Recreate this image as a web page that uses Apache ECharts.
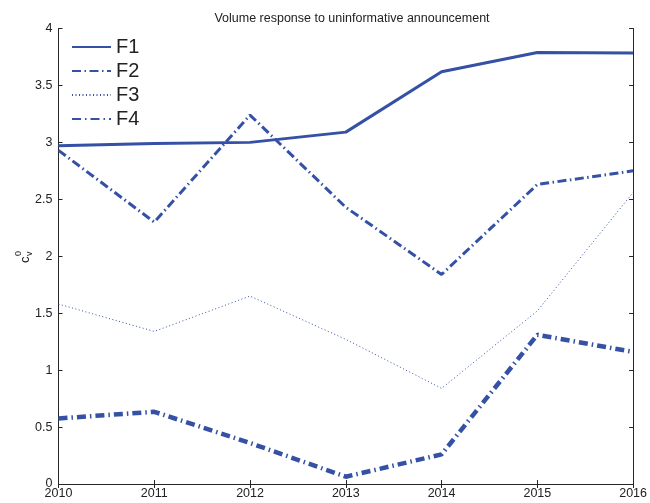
<!DOCTYPE html>
<html>
<head>
<meta charset="utf-8">
<script src="https://cdn.jsdelivr.net/npm/echarts@6/dist/echarts.min.js"></script>
<style>
  html, body { margin: 0; padding: 0; background: #fff; }
  #chart { width: 650px; height: 503px; }
</style>
</head>
<body>
<div id="chart"></div>
<script>
// years on the x axis
const years = [2010, 2011, 2012, 2013, 2014, 2015, 2016];
const seriesNames = ["F1", "F2", "F3", "F4"];
// values
const f1 = [2.97, 2.99, 3.00, 3.09, 3.62, 3.79, 3.785];
const f2 = [2.93, 2.30, 3.24, 2.43, 1.84, 2.63, 2.75];
const f3 = [1.58, 1.34, 1.65, 1.27, 0.84, 1.52, 2.56];
const f4 = [0.576, 0.634, 0.36, 0.064, 0.26, 1.31, 1.16];
const yTicks = [0, 0.5, 1, 1.5, 2, 2.5, 3, 3.5, 4];

const blue = "#3451a5";
const font = "Liberation Sans, Arial, sans-serif";
const axisColor = "#262626";

function pairs(vals) {
  return years.map((y, i) => [y, vals[i]]);
}

const chart = echarts.init(document.getElementById("chart"));

const lineDefs = [
  { data: f1, width: 3, type: "solid" },
  { data: f2, width: 3, type: [9, 3.5, 1.5, 3.5] },
  { data: f3, width: 1, type: [1, 2.5] },
  { data: f4, width: 4.5, type: [9, 4, 1.5, 4] }
];

chart.setOption({
  animation: false,
  title: {
    text: "Volume response to uninformative announcement",
    left: 347,
    top: 7,
    textAlign: "center",
    textStyle: { fontFamily: font, fontSize: 12.5, fontWeight: "normal", color: "#222" }
  },
  legend: {
    data: seriesNames,
    orient: "vertical",
    left: 71,
    top: 37,
    padding: 0,
    itemWidth: 39,
    itemHeight: 14,
    itemGap: 4,
    itemStyle: { opacity: 0 },
    textStyle: { fontFamily: font, fontSize: 20, color: "#222", lineHeight: 20 }
  },
  grid: { left: 58.5, right: 12.5, top: 28.5, bottom: 19 },
  xAxis: [
    {
      type: "value",
      min: 2010,
      max: 2016,
      interval: 1,
      axisLine: { show: true, lineStyle: { color: axisColor, width: 1 } },
      axisTick: { inside: true, length: 4, lineStyle: { color: axisColor } },
      axisLabel: {
        formatter: (v) => String(v),
        fontFamily: font, fontSize: 12.5, color: "#222", margin: 3
      },
      splitLine: { show: false }
    },
    {
      type: "value",
      position: "top",
      min: 2010,
      max: 2016,
      interval: 1,
      axisLine: { show: true, lineStyle: { color: axisColor, width: 1 } },
      axisTick: { inside: true, length: 4, lineStyle: { color: axisColor } },
      axisLabel: { show: false },
      splitLine: { show: false }
    }
  ],
  yAxis: [
    {
      type: "value",
      min: yTicks[0],
      max: yTicks[yTicks.length - 1],
      interval: 0.5,
      axisLine: { show: true, lineStyle: { color: axisColor, width: 1 } },
      axisTick: { show: true, inside: true, length: 4, lineStyle: { color: axisColor } },
      axisLabel: { fontFamily: font, fontSize: 12.5, color: "#222", margin: 6 },
      splitLine: { show: false }
    },
    {
      type: "value",
      position: "right",
      min: yTicks[0],
      max: yTicks[yTicks.length - 1],
      interval: 0.5,
      axisLine: { show: true, lineStyle: { color: axisColor, width: 1 } },
      axisTick: { show: true, inside: true, length: 4, lineStyle: { color: axisColor } },
      axisLabel: { show: false },
      splitLine: { show: false }
    }
  ],
  // y axis name: c with superscript 0 over subscript v, rotated
  graphic: [
    {
      type: "group",
      x: 25,
      y: 263,
      rotation: Math.PI / 2,
      children: [
        { type: "text", x: 0, y: 0, style: { text: "c", font: "13px " + font, fill: "#222", textVerticalAlign: "middle" } },
        { type: "text", x: 7, y: -6, style: { text: "0", font: "9px " + font, fill: "#222", textVerticalAlign: "middle" } },
        { type: "text", x: 7, y: 5, style: { text: "v", font: "9px " + font, fill: "#222", textVerticalAlign: "middle" } }
      ]
    }
  ],
  series: lineDefs.map((d, i) => ({
    name: seriesNames[i],
    type: "line",
    data: pairs(d.data),
    symbol: "none",
    color: blue,
    lineStyle: { color: blue, width: d.width, type: d.type },
    z: 10 - i
  }))
});
</script>
</body>
</html>
